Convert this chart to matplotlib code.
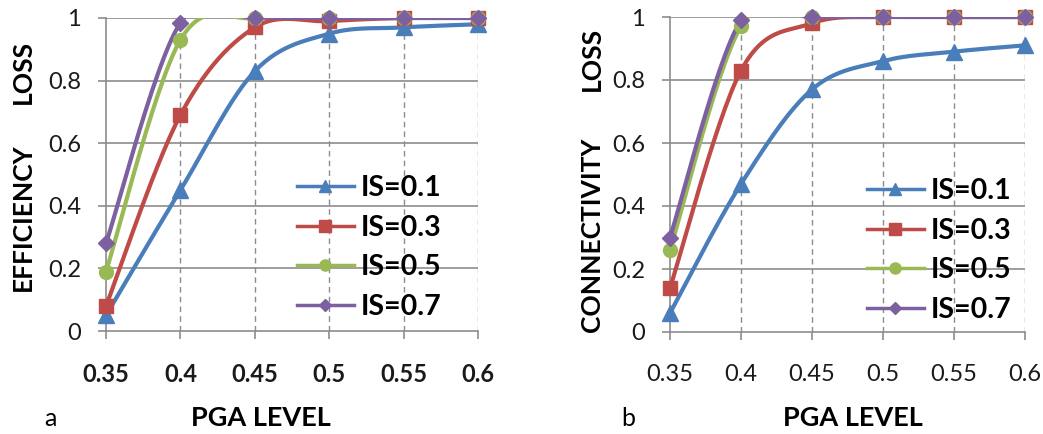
import numpy as np
import matplotlib
matplotlib.use("Agg")
import matplotlib.pyplot as plt

plt.rcParams['font.family'] = ['Lato', 'DejaVu Sans']

pga = [0.35, 0.4, 0.45, 0.5, 0.55, 0.6]
labels = ["IS=0.1", "IS=0.3", "IS=0.5", "IS=0.7"]

eff_loss = [
    [0.05, 0.45, 0.83, 0.95, 0.97, 0.98],
    [0.08, 0.69, 0.97, 0.99, 1.0, 1.0],
    [0.19, 0.93, 1.0, 1.0, 1.0, 1.0],
    [0.28, 0.985, 1.0, 1.0, 1.0, 1.0],
]
conn_loss = [
    [0.06, 0.47, 0.77, 0.86, 0.89, 0.91],
    [0.14, 0.83, 0.98, 1.0, 1.0, 1.0],
    [0.26, 0.97, 1.0, 1.0, 1.0, 1.0],
    [0.30, 0.99, 1.0, 1.0, 1.0, 1.0],
]

colors = ["#4A7EBB", "#BE4B48", "#98B954", "#7D60A0"]
markers = ["^", "s", "o", "D"]
msizes = [11, 10, 10, 8]
grid_c = "#8c8c8c"


def smooth(x, y, n=30):
    # excel-style smoothed line (catmull-rom bezier)
    x = np.asarray(x, float)
    y = np.asarray(y, float)
    px = np.concatenate([[x[0]], x, [x[-1]]])
    py = np.concatenate([[y[0]], y, [y[-1]]])
    xs, ys = [], []
    t = np.linspace(0, 1, n)
    for i in range(1, len(x)):
        p0 = np.array([px[i - 1], py[i - 1]])
        p1 = np.array([px[i], py[i]])
        p2 = np.array([px[i + 1], py[i + 1]])
        p3 = np.array([px[i + 2], py[i + 2]])
        c1 = p1 + (p2 - p0) / 6
        c2 = p2 - (p3 - p1) / 6
        b = ((1 - t) ** 3)[:, None] * p1 + (3 * (1 - t) ** 2 * t)[:, None] * c1 \
            + (3 * (1 - t) * t ** 2)[:, None] * c2 + (t ** 3)[:, None] * p2
        xs.append(b[:, 0])
        ys.append(b[:, 1])
    return np.concatenate(xs), np.concatenate(ys)


def draw_panel(ax, data, bold_x):
    for vals, c, m, ms, lab in zip(data, colors, markers, msizes, labels):
        sx, sy = smooth(pga, vals)
        ax.plot(sx, sy, color=c, lw=3, solid_capstyle="round", zorder=3)
        ax.plot(pga, vals, linestyle="none", marker=m, ms=ms, color=c,
                clip_on=False, zorder=4)
        ax.plot([], [], color=c, lw=2.5, marker=m, ms=ms * 0.8, label=lab)
    ax.set_xlim(0.35, 0.6)
    ax.set_ylim(0, 1)
    ax.set_xticks(pga)
    ax.set_xticklabels(["0.35", "0.4", "0.45", "0.5", "0.55", "0.6"],
                       fontweight="bold" if bold_x else "normal")
    ax.set_yticks([0, 0.2, 0.4, 0.6, 0.8, 1.0])
    ax.set_yticklabels(["0", "0.2", "0.4", "0.6", "0.8", "1"])
    for yv in [0.2, 0.4, 0.6, 0.8, 1.0]:
        ax.axhline(yv, color=grid_c, lw=1.2, zorder=1)
    for xv in pga[1:]:
        ax.axvline(xv, color=grid_c, lw=1, ls=(0, (4, 3)), zorder=1)
    for s in ["top", "right"]:
        ax.spines[s].set_visible(False)
    for s in ["left", "bottom"]:
        ax.spines[s].set_color(grid_c)
        ax.spines[s].set_linewidth(1.2)
    ax.tick_params(axis="both", direction="out", length=6, width=1.2,
                   color=grid_c, labelsize=17, labelcolor="#1a1a1a")
    ax.tick_params(axis="x", pad=17)
    ax.tick_params(axis="y", pad=12)


fig = plt.figure(figsize=(10.43, 4.34), dpi=100)
W, H = 1043, 434

ax_a = fig.add_axes([106 / W, 1 - 331 / H, (478 - 106) / W, (331 - 18) / H])
ax_b = fig.add_axes([670 / W, 1 - 332 / H, (1025 - 670) / W, (332 - 17) / H])

draw_panel(ax_a, eff_loss, True)
draw_panel(ax_b, conn_loss, False)

leg_kw = dict(frameon=False, handlelength=2.0, handletextpad=0.25,
              labelspacing=0.48, borderpad=0, borderaxespad=0, loc="upper left",
              prop={"weight": "bold", "size": 20.5})
ax_a.legend(bbox_to_anchor=(297 / W, 1 - 175 / H), bbox_transform=fig.transFigure,
            **leg_kw)
ax_b.legend(bbox_to_anchor=(867 / W, 1 - 178 / H), bbox_transform=fig.transFigure,
            **leg_kw)

ylab_kw = dict(rotation=90, ha="center", va="center", fontsize=19, fontweight="bold")
fig.text(23 / W, 1 - 72 / H, "LOSS", **ylab_kw)
fig.text(23 / W, 1 - 217 / H, "EFFICIENCY", **ylab_kw)
fig.text(592 / W, 1 - 59 / H, "LOSS", **ylab_kw)
fig.text(592 / W, 1 - 235 / H, "CONNECTIVITY", **ylab_kw)

fig.text(261 / W, 1 - 418 / H, "PGA LEVEL", ha="center", va="center",
         fontsize=19.5, fontweight="bold")
fig.text(853 / W, 1 - 418 / H, "PGA LEVEL", ha="center", va="center",
         fontsize=19.5, fontweight="bold")
fig.text(50 / W, 1 - 418 / H, "a", ha="center", va="center", fontsize=18)
fig.text(628 / W, 1 - 418 / H, "b", ha="center", va="center", fontsize=18)

fig.savefig("out.png", dpi=100)
